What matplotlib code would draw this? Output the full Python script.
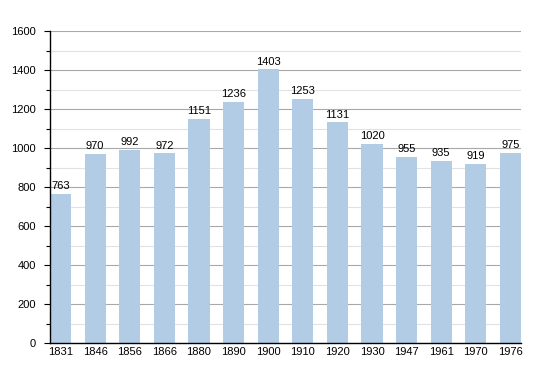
import numpy as np
import matplotlib.pyplot as plt
from matplotlib.ticker import MultipleLocator

# Population data
years = ["1831", "1846", "1856", "1866", "1880", "1890", "1900",
         "1910", "1920", "1930", "1947", "1961", "1970", "1976"]
population = [763, 970, 992, 972, 1151, 1236, 1403,
              1253, 1131, 1020, 955, 935, 919, 975]

plt.rcParams['font.family'] = ['Liberation Sans', 'DejaVu Sans']

fig = plt.figure(figsize=(5.5, 3.73), dpi=100)
ax = fig.add_axes([50 / 550, 30 / 373, 471 / 550, 312 / 373])

x = np.arange(len(years))
width = 0.61
ax.bar(x, population, width=width, color="#b3cce6", zorder=2)

for xi, v in zip(x, population):
    ax.text(xi, v + 14, str(v), ha="center", va="bottom", fontsize=8, color="black", zorder=3)

ax.set_xlim(-width / 2, len(years) - 1 + width / 2)
ax.set_ylim(0, 1600)
ax.yaxis.set_major_locator(MultipleLocator(200))
ax.yaxis.set_minor_locator(MultipleLocator(100))
ax.grid(axis="y", which="major", color="#a8a8a8", linewidth=0.8, zorder=0)
ax.grid(axis="y", which="minor", color="#e2e2e2", linewidth=0.8, zorder=0)

ax.set_xticks(x)
ax.set_xticklabels(years)
ax.tick_params(axis="x", length=0, labelsize=8, pad=3)
ax.tick_params(axis="y", which="major", length=4, width=0.8, labelsize=8, pad=6)
ax.tick_params(axis="y", which="minor", length=3, width=0.8)

for side in ["top", "right"]:
    ax.spines[side].set_visible(False)
ax.spines["left"].set_linewidth(1.0)
ax.spines["bottom"].set_linewidth(1.0)

plt.savefig("out.png", dpi=100)
